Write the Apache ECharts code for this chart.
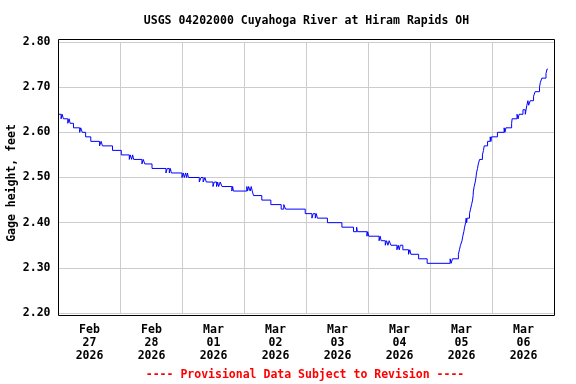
<!DOCTYPE html>
<html><head><meta charset="utf-8">
<script src="https://cdn.jsdelivr.net/npm/echarts@6/dist/echarts.min.js"></script>
<style>html,body{margin:0;padding:0;background:#fff}#c{width:576px;height:384px}</style>
</head><body><div id="c"></div>
<script>
// Hours since 2026-02-27 00:00 at which the reading changes, and the gage height (ft) from then on
const hours = [0,1.0,1.4,1.9,3.6,4.1,4.5,5.8,8.2,8.6,9.2,10.5,12.5,15.9,16.5,17.0,20.9,24.3,27.4,27.8,28.3,28.7,29.1,32.3,32.8,33.4,36.2,41.6,42.1,42.9,43.3,43.7,47.8,48.3,48.7,49.2,49.6,49.9,50.3,54.5,55.2,56.0,56.7,57.2,59.8,60.3,61.2,61.6,62.0,62.6,63.3,67.1,67.4,67.7,72.9,73.2,73.6,74.2,74.6,75.0,75.5,78.7,82.2,86.2,87.2,87.9,95.5,98.1,98.6,99.4,99.8,100.2,104.1,109.7,114.2,115.4,115.7,119.4,119.7,120.1,124.1,124.5,124.9,126.5,127.0,127.5,128.0,128.7,131.0,131.5,131.9,132.3,133.3,135.5,136.0,136.4,139.4,142.7,151.6,152.0,152.5,154.8,155.2,155.6,156.2,156.5,156.9,157.2,157.6,157.8,158.0,158.2,159.1,159.5,159.9,160.3,160.5,160.6,160.9,161.3,161.6,161.8,162.2,162.5,163.0,164.1,164.5,164.8,166.1,167.1,167.4,167.6,169.9,172.5,172.8,173.2,175.4,175.6,177.5,177.9,178.3,179.8,180.7,181.0,181.3,181.7,182.0,182.6,183.9,184.5,186.2,186.5,187.1,188.7,189.1,189.4];
const gage = [2.64,2.63,2.64,2.63,2.62,2.63,2.62,2.61,2.60,2.61,2.60,2.59,2.58,2.57,2.58,2.57,2.56,2.55,2.54,2.55,2.54,2.55,2.54,2.53,2.54,2.53,2.52,2.51,2.52,2.51,2.52,2.51,2.50,2.51,2.50,2.51,2.50,2.51,2.50,2.49,2.50,2.49,2.50,2.49,2.48,2.49,2.48,2.49,2.48,2.49,2.48,2.47,2.48,2.47,2.48,2.47,2.48,2.47,2.48,2.47,2.46,2.45,2.44,2.43,2.44,2.43,2.42,2.41,2.42,2.41,2.42,2.41,2.40,2.39,2.38,2.39,2.38,2.37,2.38,2.37,2.36,2.37,2.36,2.35,2.36,2.35,2.36,2.35,2.34,2.35,2.34,2.35,2.34,2.33,2.34,2.33,2.32,2.31,2.32,2.31,2.32,2.33,2.34,2.35,2.36,2.37,2.38,2.39,2.40,2.41,2.40,2.41,2.42,2.43,2.44,2.45,2.46,2.47,2.48,2.49,2.50,2.51,2.52,2.53,2.54,2.55,2.56,2.57,2.58,2.59,2.58,2.59,2.60,2.61,2.60,2.61,2.62,2.63,2.64,2.63,2.64,2.65,2.64,2.65,2.66,2.67,2.66,2.67,2.68,2.69,2.70,2.71,2.72,2.73,2.74,2.74];
const dayTickHours = [12,36,60,84,108,132,156,180];
const dayLabels = ['Feb\n27\n2026','Feb\n28\n2026','Mar\n01\n2026','Mar\n02\n2026','Mar\n03\n2026','Mar\n04\n2026','Mar\n05\n2026','Mar\n06\n2026'];
const titleText = 'USGS 04202000 Cuyahoga River at Hiram Rapids OH';
const yName = 'Gage height, feet';
const footerText = '---- Provisional Data Subject to Revision ----';

const FONT = "'DejaVu Sans Mono', monospace";
const FS = 11.5;
const chart = echarts.init(document.getElementById('c'), null, {renderer: 'canvas'});
const data = hours.map((h, i) => [h, gage[i]]);
chart.setOption({
  animation: false,
  backgroundColor: '#ffffff',
  grid: {left: 58.5, right: 21.5, top: 42, bottom: 71, containLabel: false},
  xAxis: {
    type: 'value', min: 0, max: 192, interval: 24,
    axisLine: {show: false}, axisTick: {show: false},
    splitLine: {show: true, lineStyle: {color: '#cccccc', width: 1}},
    axisLabel: {
      customValues: dayTickHours,
      formatter: v => dayLabels[dayTickHours.indexOf(v)] || '',
      margin: 11, lineHeight: 12.7, color: '#000', fontFamily: FONT, fontWeight: 'bold', fontSize: FS
    }
  },
  yAxis: {
    type: 'value', min: 2.2, max: 2.8, interval: 0.1,
    axisLine: {show: false}, axisTick: {show: false},
    splitLine: {show: true, lineStyle: {color: '#cccccc', width: 1}},
    axisLabel: {formatter: v => v.toFixed(2), margin: 8, color: '#000', fontFamily: FONT, fontWeight: 'bold', fontSize: FS}
  },
  series: [{
    type: 'line', step: 'end', data: data, showSymbol: false, symbol: 'none',
    lineStyle: {color: '#0000ff', width: 1}, z: 3
  }],
  graphic: [
    {type: 'rect', z: 100, silent: true, shape: {x: 58.5, y: 39.5, width: 496, height: 276},
     style: {fill: 'none', stroke: '#000', lineWidth: 1}},
    {type: 'text', z: 100, x: 306.5, y: 21.5, style: {text: titleText, align: 'center', verticalAlign: 'middle',
      font: 'bold ' + FS + 'px ' + FONT, fill: '#000'}},
    {type: 'text', z: 100, x: 12, y: 183, rotation: Math.PI / 2, style: {text: yName, align: 'center', verticalAlign: 'middle',
      font: 'bold ' + FS + 'px ' + FONT, fill: '#000'}},
    {type: 'text', z: 100, x: 305, y: 375, style: {text: footerText, align: 'center', verticalAlign: 'middle',
      font: 'bold ' + FS + 'px ' + FONT, fill: '#ff0000'}}
  ]
});
</script></body></html>
